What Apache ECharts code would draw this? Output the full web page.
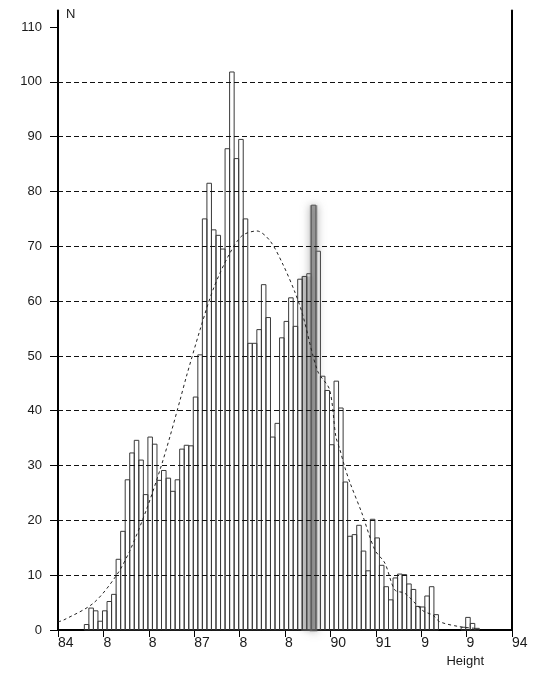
<!DOCTYPE html>
<html><head><meta charset="utf-8">
<script src="https://cdn.jsdelivr.net/npm/echarts@6/dist/echarts.min.js"></script>
<style>html,body{margin:0;padding:0;background:#fff}#c{width:534px;height:676px}</style>
</head><body><div id="c"></div>
<script>
// ---- data ----
const binStart = 84.58;
const binWidth = 0.1;
const counts = [
  1, 4, 3.5, 1.6, 3.5, 5.2, 6.5, 12.9, 18, 27.4,
  32.3, 34.6, 31, 24.7, 35.2, 33.9, 27.3, 29.1, 27.7, 25.3,
  27.4, 33, 33.7, 33.6, 42.5, 50.2, 75, 81.5, 73, 72,
  69.5, 87.8, 101.8, 86, 89.5, 75, 52.3, 52.3, 54.8, 63,
  57, 35.2, 37.7, 53.3, 56.3, 60.6, 55.4, 64, 64.5, 65,
  77.5, 69.1, 46.3, 43.7, 33.8, 45.4, 40.5, 27, 17.1, 17.4,
  19.1, 14.4, 10.8, 20.2, 16.8, 11.8, 7.9, 5.5, 9.5, 10.2,
  10.1, 8.4, 7.4, 4.3, 4.2, 6.2, 7.9, 2.8, 0, 0,
  0, 0, 0, 0.5, 2.3, 1.2, 0.3
];
const highlightBin = 50;
const shadeBins = [48, 49];
const shadeLevel = 64.5;
const curveX = [84.0, 84.12, 84.78, 85.29, 85.59, 85.95, 86.25, 86.47, 86.69, 86.83,
  87.13, 87.42, 87.75, 88.05, 88.38, 88.67, 88.96, 89.22, 89.39, 89.72,
  89.98, 90.12, 90.21, 90.31, 90.43, 90.69, 90.98, 91.2, 91.42, 91.64,
  92.04, 92.26, 92.41, 92.85, 93.19];
const curveY = [1.5, 1.8, 4.9, 10, 14.6, 22, 29.3, 35.4, 42, 46.3,
  54.8, 62.2, 68.2, 71.9, 72.8, 71, 66.6, 61.6, 57.5, 47.2,
  43.9, 35.3, 32.9, 29.9, 26.9, 21.4, 14.6, 12.2, 7.3, 6.7,
  3.5, 2.7, 1.5, 0.6, 0.3];
const xTickLabels = ['84', '8', '8', '87', '8', '8', '90', '91', '9', '9', '94'];
const yTickValues = [0, 10, 20, 30, 40, 50, 60, 70, 80, 90, 100, 110];
const gridValues = [10, 20, 30, 40, 50, 60, 70, 80, 90, 100];

// ---- derived ----
const histData = counts.map((c, i) => [binStart + i * binWidth, binStart + (i + 1) * binWidth, c]);
const hlData = [[binStart + highlightBin * binWidth, binStart + (highlightBin + 1) * binWidth, counts[highlightBin]]];
const shadeData = [[binStart + shadeBins[0] * binWidth, binStart + (shadeBins[shadeBins.length - 1] + 1) * binWidth, shadeLevel]];
const curveData = curveX.map((x, i) => [x, curveY[i]]);

const FONT = 'Liberation Sans';

function rectItem(api, style, pad) {
  const v = api.value(2);
  if (!v) return null;
  const a = api.coord([api.value(0), v]);
  const b = api.coord([api.value(1), 0]);
  const p = pad || 0;
  return { type: 'rect', shape: { x: a[0] - p, y: a[1], width: b[0] - a[0] + 2 * p, height: b[1] - a[1] + p }, style: style };
}

const chart = echarts.init(document.getElementById('c'));
chart.setOption({
  animation: false,
  backgroundColor: '#fff',
  grid: { left: 58, right: 22, top: 10.6, bottom: 46, containLabel: false },
  xAxis: {
    type: 'value', min: 84, max: 94, interval: 1,
    axisLine: { show: true, onZero: false, lineStyle: { color: '#000', width: 2 } },
    axisTick: { show: true, length: 7, lineStyle: { color: '#000', width: 1 } },
    axisLabel: {
      formatter: v => xTickLabels[Math.round(v - 84)],
      align: 'left', margin: 6, color: '#1a1a1a', fontSize: 14, fontFamily: FONT
    },
    splitLine: { show: false },
    name: 'Height', nameLocation: 'end', nameGap: -28,
    nameTextStyle: { align: 'right', verticalAlign: 'top', padding: [25, 0, 0, 0], fontSize: 13, color: '#1a1a1a', fontFamily: FONT }
  },
  yAxis: [{
    type: 'value', min: 0, max: 113, interval: 10,
    axisLine: { show: true, lineStyle: { color: '#000', width: 2 } },
    axisTick: { show: true, length: 8, customValues: yTickValues, lineStyle: { color: '#000', width: 1 } },
    axisLabel: { customValues: yTickValues, margin: 16, color: '#1a1a1a', fontSize: 13, fontFamily: FONT },
    splitLine: { show: false },
    name: 'N', nameLocation: 'end', nameGap: -4,
    nameTextStyle: { align: 'left', verticalAlign: 'middle', padding: [0, 0, 0, 8], fontSize: 13, color: '#1a1a1a', fontFamily: FONT }
  }, {
    type: 'value', position: 'right', min: 0, max: 113, interval: 10,
    axisLine: { show: true, lineStyle: { color: '#000', width: 2 } },
    axisTick: { show: false }, axisLabel: { show: false }, splitLine: { show: false }
  }],
  series: [
    {
      type: 'custom', name: 'shade', silent: true, z: 1,
      encode: { x: [0, 1], y: 2 }, data: shadeData,
      renderItem: (p, api) => rectItem(api, { fill: 'rgba(150,150,150,0.45)', shadowBlur: 5, shadowColor: 'rgba(150,150,150,0.7)' }, 1)
    },
    {
      type: 'custom', name: 'hist', silent: true, z: 2,
      encode: { x: [0, 1], y: 2 }, data: histData,
      renderItem: (p, api) => rectItem(api, { fill: 'rgba(255,255,255,0)', stroke: '#3a3a3a', lineWidth: 1 })
    },
    {
      type: 'custom', name: 'highlight', silent: true, z: 3,
      encode: { x: [0, 1], y: 2 }, data: hlData,
      renderItem: (p, api) => rectItem(api, { fill: 'rgba(105,105,105,0.6)', shadowBlur: 9, shadowColor: 'rgba(110,110,110,0.9)' }, 1.5)
    },
    {
      type: 'line', name: 'fit', silent: true, z: 4,
      data: curveData, smooth: 0.3, symbol: 'none',
      lineStyle: { type: [3, 3], color: '#222', width: 1 },
      markLine: {
        silent: true, symbol: 'none', label: { show: false },
        lineStyle: { type: [5, 3], color: '#111', width: 1 },
        data: gridValues.map(v => ({ yAxis: v }))
      }
    }
  ]
});
</script>
</body></html>
